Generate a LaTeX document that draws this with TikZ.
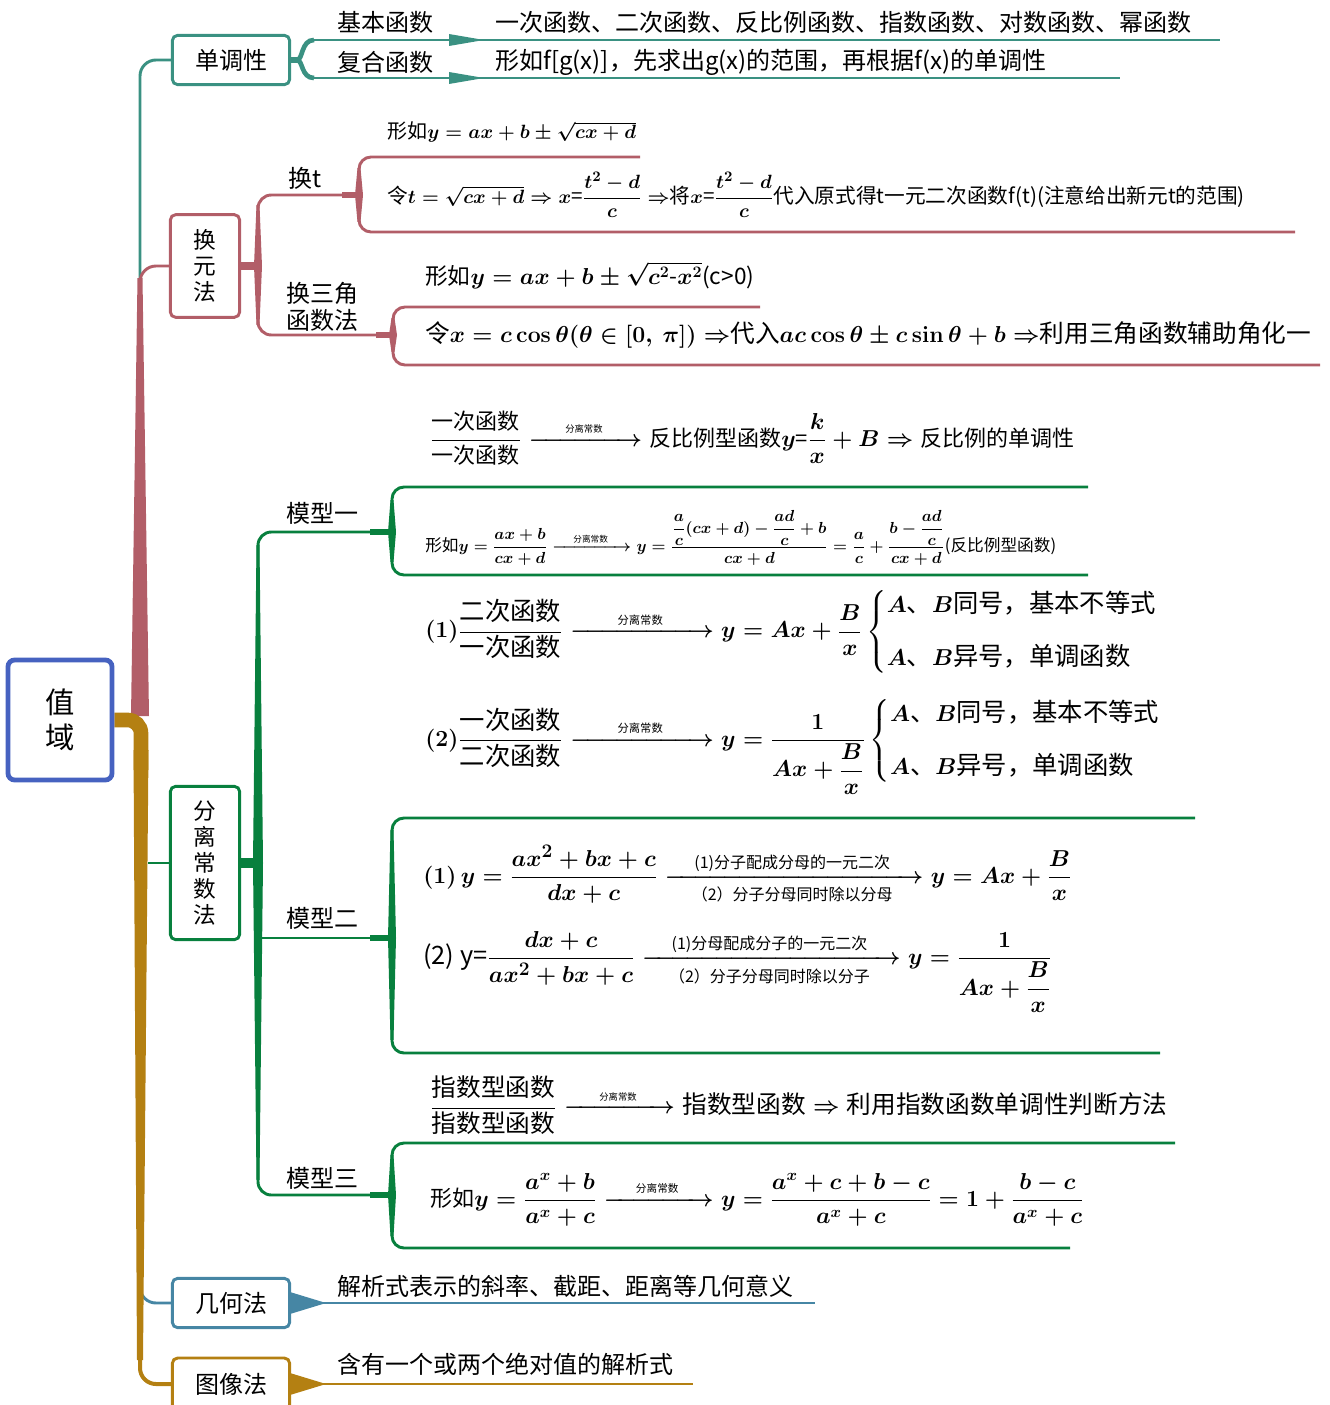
\documentclass[tikz,border=0pt]{standalone}
\usepackage{amsmath}
\usepackage[no-math]{fontspec}
\setmainfont{Noto Sans CJK SC}
\usetikzlibrary{positioning,backgrounds}
\definecolor{rootblue}{RGB}{70,98,192}
\definecolor{tealc}{RGB}{58,145,130}
\definecolor{rosec}{RGB}{178,94,104}
\definecolor{greenc}{RGB}{8,128,62}
\definecolor{bluec}{RGB}{70,134,164}
\definecolor{goldc}{RGB}{180,128,18}
\tikzset{
  rootbox/.style={draw=rootblue, line width=3.6pt, rounded corners=5pt, fill=white, align=center, font=\fontsize{22}{26}\selectfont},
  topic/.style={line width=2.2pt, rounded corners=4pt, fill=white, align=center, inner sep=0pt, font=\fontsize{18}{22}\selectfont},
  vtopic/.style={topic, font=\fontsize{17}{19.5}\selectfont},
  lbl/.style={inner sep=0pt, font=\fontsize{18}{22}\selectfont},
  frm/.style={inner sep=0pt, anchor=west, execute at begin node=\boldmath},
}

\begin{document}
\begin{tikzpicture}[x=0.75pt, y=-0.75pt]
      \useasboundingbox (0,0) rectangle (1329,1405);

      \node[rootbox, minimum width=78pt, minimum height=90pt, name=zhiyu] at (60,720) {值\\域};
      \node[topic, draw=tealc, minimum width=88pt, minimum height=37pt, name=dandiao] at (231,60) {单调性};
      \node[vtopic, draw=rosec, minimum width=52pt, minimum height=77pt, name=huanyuan] at (205,266) {换\\元\\法};
      \node[vtopic, draw=greenc, minimum width=52pt, minimum height=115pt, name=fenli] at (205,863) {分\\离\\常\\数\\法};
      \node[topic, draw=bluec, minimum width=88pt, minimum height=37pt, name=jihe] at (231,1303) {几何法};
      \node[topic, draw=goldc, minimum width=88pt, minimum height=39pt, name=tuxiang] at (231,1384) {图像法};

      \node[lbl, name=jbhs] at (385,22) {基本函数};
      \node[lbl, anchor=west, name=jbhsc] at (495,22) {一次函数、二次函数、反比例函数、指数函数、对数函数、幂函数};
      \node[lbl, name=fhhs] at (385,62) {复合函数};
      \node[lbl, anchor=west, name=fhhsc] at (495,62) {形如f[g(x)]，先求出g(x)的范围，再根据f(x)的单调性};

      \node[lbl, name=huant] at (305,178) {换t};
      \node[lbl, align=left, name=huansj, font=\fontsize{18}{20}\selectfont] at (322,307) {换三角\\函数法};
      \node[frm, font=\fontsize{15}{20}\selectfont, name=ht1] at (387,132) {形如$y=ax+b\pm\sqrt{cx+d}$};
      \node[frm, font=\fontsize{15.5}{20}\selectfont, name=ht2] at (387,195) {令$t=\sqrt{cx+d}\Rightarrow x\text{=}\dfrac{t^2-d}{c}\Rightarrow$将$x\text{=}\dfrac{t^2-d}{c}$代入原式得t一元二次函数f(t)(注意给出新元t的范围)};
      \node[frm, font=\fontsize{17}{20}\selectfont, name=hs1] at (425,275) {形如$y=ax+b\pm\sqrt{c^2\text{-}x^2}$(c>0)};
      \node[frm, font=\fontsize{18.5}{22}\selectfont, name=hs2] at (425,335) {令$x=c\cos\theta(\theta\in[0,\ \pi])\Rightarrow$代入$ac\cos\theta\pm c\sin\theta+b\Rightarrow$利用三角函数辅助角化一};

      \node[lbl, name=mx1] at (322,513) {模型一};
      \node[lbl, name=mx2] at (322,918) {模型二};
      \node[lbl, name=mx3] at (322,1178) {模型三};

      \node[frm, font=\fontsize{16.5}{20}\selectfont, name=m1a] at (430,438) {$\dfrac{\text{一次函数}}{\text{一次函数}}\xrightarrow{\hspace{1.4em}\text{\fontsize{7}{8}\selectfont 分离常数}\hspace{1.4em}}\text{反比例型函数}y\text{=}\dfrac{k}{x}+B\Rightarrow\text{反比例的单调性}$};
      \node[frm, font=\fontsize{12.5}{15}\selectfont, name=m1b] at (425,538) {形如$y=\dfrac{ax+b}{cx+d}\xrightarrow{\hspace{1em}\text{\fontsize{6.5}{7}\selectfont 分离常数}\hspace{1em}}y=\dfrac{\dfrac{a}{c}(cx+d)-\dfrac{ad}{c}+b}{cx+d}=\dfrac{a}{c}+\dfrac{b-\dfrac{ad}{c}}{cx+d}$(反比例型函数)};
      \node[frm, font=\fontsize{19}{23}\selectfont, name=m1c] at (425,632) {$(1)\dfrac{\text{二次函数}}{\text{一次函数}}\xrightarrow{\hspace{1.6em}\text{\fontsize{8.5}{10}\selectfont 分离常数}\hspace{1.6em}}y=Ax+\dfrac{B}{x}\begin{cases}A\text{、}B\text{同号，基本不等式}\\[12pt]A\text{、}B\text{异号，单调函数}\end{cases}$};
      \node[frm, font=\fontsize{19}{23}\selectfont, name=m1d] at (425,745) {$(2)\dfrac{\text{一次函数}}{\text{二次函数}}\xrightarrow{\hspace{1.6em}\text{\fontsize{8.5}{10}\selectfont 分离常数}\hspace{1.6em}}y=\dfrac{1}{Ax+\dfrac{B}{x}}\begin{cases}A\text{、}B\text{同号，基本不等式}\\[12pt]A\text{、}B\text{异号，单调函数}\end{cases}$};

      \node[frm, font=\fontsize{19}{23}\selectfont, name=m2a] at (423,875) {$(1)\,y=\dfrac{ax^2+bx+c}{dx+c}\xrightarrow[\hspace{0.8em}\text{\fontsize{12}{14}\selectfont （2）分子分母同时除以分母}\hspace{0.8em}]{\text{\fontsize{12}{14}\selectfont (1)分子配成分母的一元二次}}y=Ax+\dfrac{B}{x}$};
      \node[frm, font=\fontsize{19}{23}\selectfont, name=m2b] at (423,972) {$\text{(2) y=}\dfrac{dx+c}{ax^2+bx+c}\xrightarrow[\hspace{0.8em}\text{\fontsize{12}{14}\selectfont （2）分子分母同时除以分子}\hspace{0.8em}]{\text{\fontsize{12}{14}\selectfont (1)分母配成分子的一元二次}}y=\dfrac{1}{Ax+\dfrac{B}{x}}$};

      \node[frm, font=\fontsize{18.5}{20}\selectfont, name=m3a] at (430,1105) {$\dfrac{\text{指数型函数}}{\text{指数型函数}}\xrightarrow{\hspace{1.2em}\text{\fontsize{7}{8}\selectfont 分离常数}\hspace{1.2em}}\text{指数型函数}\Rightarrow\text{利用指数函数单调性判断方法}$};
      \node[frm, font=\fontsize{16.5}{20}\selectfont, name=m3b] at (430,1200) {形如$y=\dfrac{a^x+b}{a^x+c}\xrightarrow{\hspace{1.2em}\text{\fontsize{8}{9}\selectfont 分离常数}\hspace{1.2em}}y=\dfrac{a^x+c+b-c}{a^x+c}=1+\dfrac{b-c}{a^x+c}$};

      \node[lbl, anchor=west, name=jihec] at (337,1286) {解析式表示的斜率、截距、距离等几何意义};
      \node[lbl, anchor=west, name=tuxiangc] at (337,1364) {含有一个或两个绝对值的解析式};

      \begin{scope}[on background layer]
      \draw[tealc, line width=2.2pt, rounded corners=12pt] (140,712) -- (140,60) -- (dandiao.west);
      \draw[rosec, line width=2.2pt, rounded corners=12pt] (140,320) -- (140,266) -- (huanyuan.west);
      \fill[rosec] (131,716) -- (137.5,278) -- (142.5,278) -- (149,716) -- cycle;
      \draw[bluec, line width=2.2pt, rounded corners=12pt] (140,1250) -- (140,1303) -- (jihe.west);
      \draw[goldc, line width=11pt, rounded corners=10pt] (zhiyu.east) -- (141,720) -- (141,770);
      \fill[goldc] (133.5,750) -- (148.5,750) -- (143,1360) -- (137,1360) -- cycle;
      \draw[goldc, line width=3pt, rounded corners=12pt] (140,1340) -- (140,1384) -- (tuxiang.west);
      \draw[greenc, line width=2pt] (148,863) -- (fenli.west);

      \draw[tealc, line width=4pt] (dandiao.east) -- (298,60);
      \draw[tealc, line width=3.5pt] (297,60) .. controls (303,60) and (301,40) .. (314,40);
      \draw[tealc, line width=3.5pt] (297,60) .. controls (303,60) and (301,78) .. (314,78);
      \draw[tealc, line width=2.2pt] (312,40) -- (1220,40);
      \draw[tealc, line width=2.2pt] (312,78) -- (1120,78);
      \fill[tealc] (449,34) -- (484,40) -- (449,46) -- cycle;
      \fill[tealc] (449,72) -- (484,78) -- (449,84) -- cycle;

      \draw[rosec, line width=6pt] (huanyuan.east) -- (258,266);
      \fill[rosec] (256.5,205) -- (259.5,205) -- (262,266) -- (259.5,325) -- (256.5,325) -- (254,266) -- cycle;
      \draw[rosec, line width=2.2pt, rounded corners=10pt] (350,195) -- (258,195) -- (258,335) -- (385,335);
      \draw[rosec, line width=5pt] (342,195) -- (359,195);
      \fill[rosec] (357.5,168) -- (360.5,168) -- (363,195) -- (360.5,222) -- (357.5,222) -- (355,195) -- cycle;
      \draw[rosec, line width=2.2pt, rounded corners=9pt] (640,157) -- (359,157) -- (359,232) -- (1295,232);
      \draw[rosec, line width=5pt] (376,335) -- (393,335);
      \fill[rosec] (391.5,318) -- (394.5,318) -- (397,335) -- (394.5,352) -- (391.5,352) -- (389,335) -- cycle;
      \draw[rosec, line width=2.2pt, rounded corners=9pt] (760,307) -- (393,307) -- (393,365) -- (1320,365);

      \draw[greenc, line width=7pt] (fenli.east) -- (258,863);
      \fill[greenc] (256.5,545) -- (259.5,545) -- (263,863) -- (259.5,1180) -- (256.5,1180) -- (253,863) -- cycle;
      \draw[greenc, line width=2.2pt, rounded corners=10pt] (372,532) -- (258,532) -- (258,1195) -- (372,1195);
      \draw[greenc, line width=2.2pt] (258,938) -- (372,938);
      \draw[greenc, line width=5pt] (370,532) -- (392,532);
      \fill[greenc] (390.5,500) -- (393.5,500) -- (396,532) -- (393.5,562) -- (390.5,562) -- (388,532) -- cycle;
      \draw[greenc, line width=2.2pt, rounded corners=9pt] (1088,487) -- (392,487) -- (392,575) -- (1088,575);
      \draw[greenc, line width=5pt] (370,938) -- (392,938);
      \fill[greenc] (390.5,830) -- (393.5,830) -- (396,938) -- (393.5,1040) -- (390.5,1040) -- (388,938) -- cycle;
      \draw[greenc, line width=2.2pt, rounded corners=9pt] (1195,818) -- (392,818) -- (392,1053) -- (1160,1053);
      \draw[greenc, line width=5pt] (370,1195) -- (392,1195);
      \fill[greenc] (390.5,1155) -- (393.5,1155) -- (396,1195) -- (393.5,1236) -- (390.5,1236) -- (388,1195) -- cycle;
      \draw[greenc, line width=2.2pt, rounded corners=9pt] (1175,1143) -- (392,1143) -- (392,1248) -- (1070,1248);

      \fill[bluec] (290,1292) -- (326,1303) -- (290,1314) -- cycle;
      \draw[bluec, line width=2.2pt] (jihe.east) -- (815,1303);
      \fill[goldc] (290,1373) -- (326,1384) -- (290,1395) -- cycle;
      \draw[goldc, line width=2.2pt] (tuxiang.east) -- (693,1384);
      \end{scope}
   \end{tikzpicture}
\end{document}
